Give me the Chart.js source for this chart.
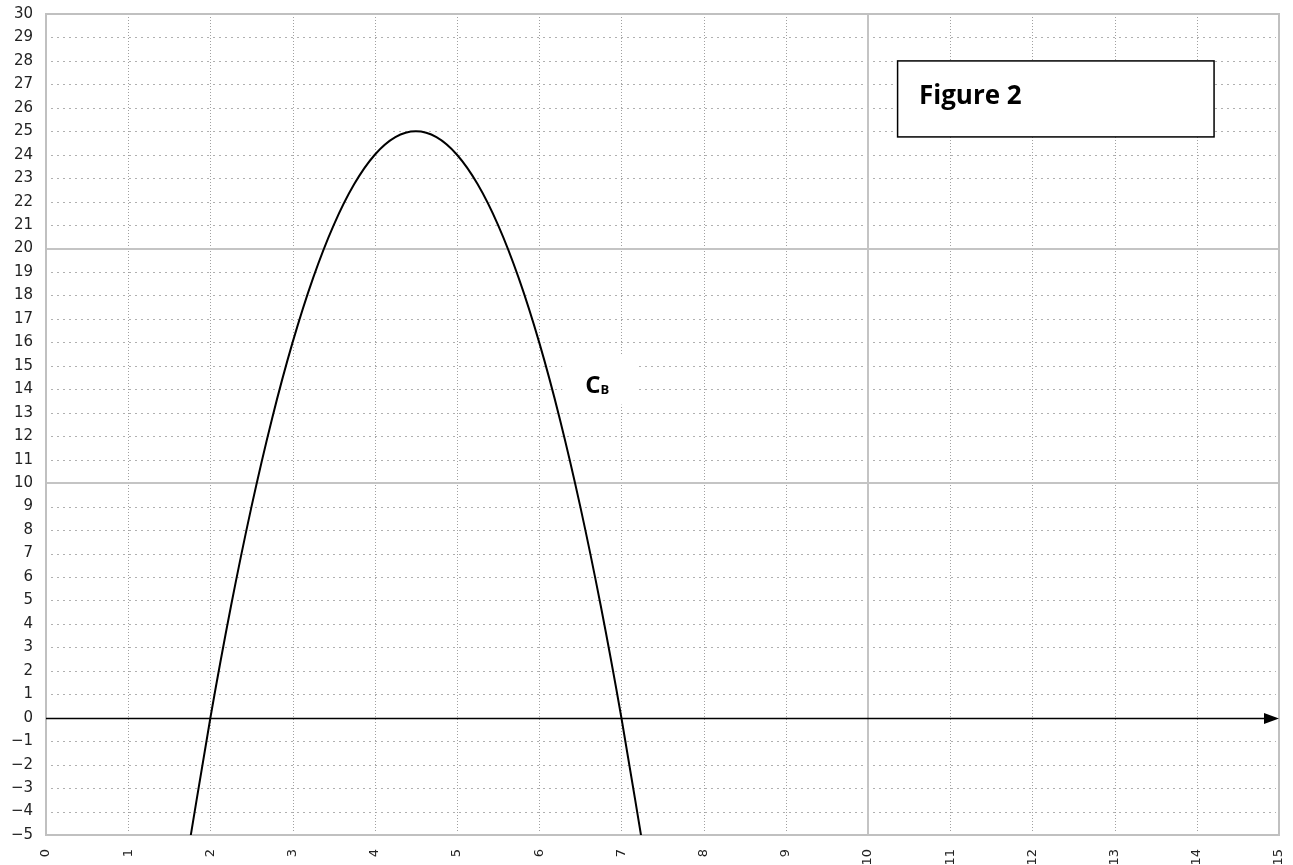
<!DOCTYPE html>
<html>
<head>
<meta charset="utf-8">
<script src="https://cdn.jsdelivr.net/npm/chart.js@4.4.1/dist/chart.umd.min.js"></script>
<style>
  html, body { margin: 0; padding: 0; background: #fff; }
  #wrap { width: 1293px; height: 865px; position: relative; }
</style>
</head>
<body>
<div id="wrap"><canvas id="courbe"></canvas></div>
<script>
// ===== Données =====
const xValues = [1.75, 2, 2.25, 2.5, 2.75, 3, 3.25, 3.5, 3.75, 4, 4.25, 4.5,
                 4.75, 5, 5.25, 5.5, 5.75, 6, 6.25, 6.5, 6.75, 7, 7.25];
const yValues = [-5.25, 0, 4.75, 9, 12.75, 16, 18.75, 21, 22.75, 24, 24.75, 25,
                 24.75, 24, 22.75, 21, 18.75, 16, 12.75, 9, 4.75, 0, -5.25];
const xTicks = [0, 1, 2, 3, 4, 5, 6, 7, 8, 9, 10, 11, 12, 13, 14, 15];
const yTicks = [-5, -4, -3, -2, -1, 0, 1, 2, 3, 4, 5, 6, 7, 8, 9, 10, 11, 12, 13, 14, 15,
                16, 17, 18, 19, 20, 21, 22, 23, 24, 25, 26, 27, 28, 29, 30];
const xMajor = [10];
const yMajor = [10, 20];
const curveLabel = 'C';
const curveSub = 'B';
const figureTitle = 'Figure 2';

const points = xValues.map((x, i) => ({ x: x, y: yValues[i] }));

// positions des annotations (en unités du repère)
const annot = {
  box: { x1: 10.36, x2: 14.21, y1: 28.0, y2: 24.76 },
  title: { x: 10.62, y: 26.15 },
  label: { x: 6.56, y: 13.85 },
  labelBg: { x1: 6.28, x2: 7.17, y1: 15.45, y2: 13.35 }
};

// ===== Grille, axe et annotations dessinés à la main =====
const repere = {
  id: 'repere',
  beforeDatasetsDraw(chart) {
    const { ctx, chartArea: a, scales: { x, y } } = chart;
    ctx.save();
    // lignes pointillées horizontales
    ctx.strokeStyle = '#b0b0b0';
    ctx.lineWidth = 1;
    ctx.setLineDash([2, 4]);
    yTicks.forEach(v => {
      if (v === 0 || yMajor.includes(v) || v === yTicks[0] || v === yTicks[yTicks.length - 1]) return;
      const py = Math.round(y.getPixelForValue(v)) + 0.5;
      ctx.beginPath();
      ctx.moveTo(a.left + 5, py);
      ctx.lineTo(a.right - 3, py);
      ctx.stroke();
    });
    // lignes pointillées verticales
    ctx.setLineDash([1, 2]);
    ctx.strokeStyle = '#a0a0a0';
    xTicks.forEach(v => {
      if (xMajor.includes(v) || v === xTicks[0] || v === xTicks[xTicks.length - 1]) return;
      const px = Math.round(x.getPixelForValue(v)) + 0.5;
      ctx.beginPath();
      ctx.moveTo(px, a.top + 3);
      ctx.lineTo(px, a.bottom - 2);
      ctx.stroke();
    });
    // lignes principales
    ctx.setLineDash([]);
    ctx.strokeStyle = '#c4c4c4';
    ctx.lineWidth = 2;
    yMajor.forEach(v => {
      const py = Math.round(y.getPixelForValue(v));
      ctx.beginPath();
      ctx.moveTo(a.left, py);
      ctx.lineTo(a.right, py);
      ctx.stroke();
    });
    xMajor.forEach(v => {
      const px = Math.round(x.getPixelForValue(v));
      ctx.beginPath();
      ctx.moveTo(px, a.top);
      ctx.lineTo(px, a.bottom);
      ctx.stroke();
    });
    // cadre
    ctx.strokeStyle = '#c0c0c0';
    ctx.strokeRect(a.left, a.top, a.right - a.left, a.bottom - a.top);
    // axe des abscisses avec flèche
    const y0 = Math.round(y.getPixelForValue(0)) + 0.5;
    ctx.strokeStyle = '#000';
    ctx.lineWidth = 1.5;
    ctx.beginPath();
    ctx.moveTo(a.left, y0);
    ctx.lineTo(a.right - 10, y0);
    ctx.stroke();
    ctx.fillStyle = '#000';
    ctx.beginPath();
    ctx.moveTo(a.right, y0);
    ctx.lineTo(a.right - 15, y0 - 5.5);
    ctx.lineTo(a.right - 15, y0 + 5.5);
    ctx.closePath();
    ctx.fill();
    ctx.restore();
  },
  afterDatasetsDraw(chart) {
    const { ctx, scales: { x, y } } = chart;
    ctx.save();
    // cadre "Figure 2"
    const bx1 = x.getPixelForValue(annot.box.x1), bx2 = x.getPixelForValue(annot.box.x2);
    const by1 = y.getPixelForValue(annot.box.y1), by2 = y.getPixelForValue(annot.box.y2);
    ctx.fillStyle = '#fff';
    ctx.fillRect(bx1, by1, bx2 - bx1, by2 - by1);
    ctx.strokeStyle = '#000';
    ctx.lineWidth = 1.5;
    ctx.strokeRect(bx1, by1, bx2 - bx1, by2 - by1);
    ctx.fillStyle = '#000';
    ctx.font = 'bold 26px "Open Sans", sans-serif';
    ctx.textBaseline = 'alphabetic';
    ctx.textAlign = 'left';
    ctx.fillText(figureTitle, x.getPixelForValue(annot.title.x), y.getPixelForValue(annot.title.y));
    // étiquette C_B
    const lx1 = x.getPixelForValue(annot.labelBg.x1), lx2 = x.getPixelForValue(annot.labelBg.x2);
    const ly1 = y.getPixelForValue(annot.labelBg.y1), ly2 = y.getPixelForValue(annot.labelBg.y2);
    ctx.fillStyle = '#fff';
    ctx.fillRect(lx1, ly1, lx2 - lx1, ly2 - ly1);
    ctx.fillStyle = '#000';
    const lx = x.getPixelForValue(annot.label.x), ly = y.getPixelForValue(annot.label.y);
    ctx.font = 'bold 24px "Open Sans", sans-serif';
    ctx.fillText(curveLabel, lx, ly);
    const cw = ctx.measureText(curveLabel).width;
    ctx.font = 'bold 13px "Open Sans", sans-serif';
    ctx.fillText(curveSub, lx + cw, ly + 1);
    ctx.restore();
  }
};

new Chart(document.getElementById('courbe'), {
  type: 'line',
  data: {
    datasets: [{
      label: curveLabel + curveSub,
      data: points,
      borderColor: '#000',
      borderWidth: 2,
      pointRadius: 0,
      fill: false,
      cubicInterpolationMode: 'monotone'
    }]
  },
  options: {
    responsive: true,
    maintainAspectRatio: false,
    animation: false,
    layout: { padding: { top: 14, right: 14, left: 0, bottom: 0 } },
    plugins: { legend: { display: false }, tooltip: { enabled: false } },
    scales: {
      x: {
        type: 'linear',
        min: xTicks[0],
        max: xTicks[xTicks.length - 1],
        afterFit: s => { s.height = 30; s.paddingLeft = 0; s.paddingRight = 0; },
        afterBuildTicks: s => { s.ticks = xTicks.map(v => ({ value: v })); },
        grid: { display: false },
        border: { display: false },
        ticks: {
          autoSkip: false,
          minRotation: 90,
          maxRotation: 90,
          padding: 6,
          color: '#222',
          font: { family: '"DejaVu Sans", sans-serif', size: 13 },
          callback: v => String(v)
        }
      },
      y: {
        type: 'linear',
        min: yTicks[0],
        max: yTicks[yTicks.length - 1],
        afterFit: s => { s.width = 46; s.paddingTop = 0; s.paddingBottom = 0; },
        afterBuildTicks: s => { s.ticks = yTicks.map(v => ({ value: v })); },
        grid: { display: false },
        border: { display: false },
        ticks: {
          autoSkip: false,
          padding: 5,
          color: '#222',
          font: { family: '"DejaVu Sans", sans-serif', size: 15 },
          callback: v => (v < 0 ? '\u2212' + Math.abs(v) : String(v))
        }
      }
    }
  },
  plugins: [repere]
});
</script>
</body>
</html>
